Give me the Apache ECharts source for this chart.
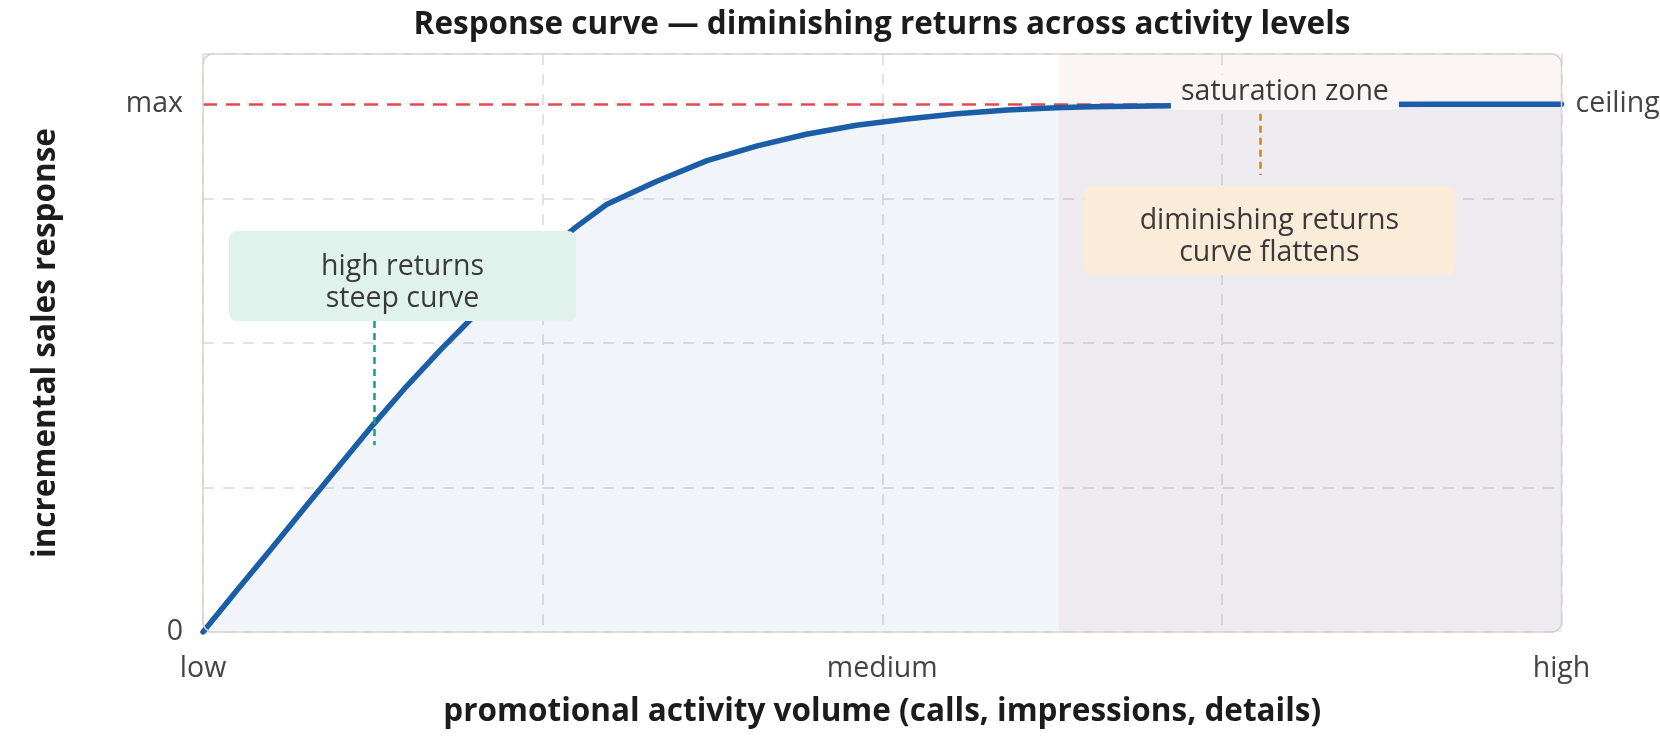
<!DOCTYPE html>
<html>
<head>
<meta charset="utf-8">
<script src="https://cdn.jsdelivr.net/npm/echarts@6/dist/echarts.min.js"></script>
<style>
  html, body { margin: 0; padding: 0; background: #ffffff; }
  #chart { width: 1660px; height: 742px; }
</style>
</head>
<body>
<div id="chart"></div>
<script>
// ---- data ----
const activity = [0, 0.25, 0.5, 0.75, 1.0, 1.25, 1.5, 1.75, 2.0, 2.25, 2.5, 2.75, 2.97, 3.34, 3.71, 4.08, 4.44, 4.81, 5.18, 5.55, 5.92, 6.28, 6.53, 7.13, 8.0, 9.0, 10];
const response = [0, 0.079, 0.157, 0.236, 0.314, 0.392, 0.466, 0.535, 0.600, 0.660, 0.716, 0.768, 0.810, 0.854, 0.893, 0.921, 0.943, 0.960, 0.972, 0.982, 0.989, 0.993, 0.995, 0.997, 0.999, 1.0, 1.0];
const xTickValues = [0, 5, 10];
const xTickLabels = ['low', 'medium', 'high'];
const yTickValues = [0, 1];
const yTickLabels = ['0', 'max'];
const ceilingValue = 1;
const saturationZone = [6.3, 10];
const highReturnsTop = [1.4685, 0.7595];
const highReturnsLeader = [[1.26, 0.589], [1.26, 0.354]];
const flattensTop = [7.85, 0.8447];
const flattensLeader = [[7.78, 0.982], [7.78, 0.866]];
const saturationLabelAt = [7.964, 1.0227];

const FONT = "'Open Sans', 'Noto Sans', sans-serif";
const G = { left: 203, top: 54, right: 98.5, bottom: 110 };
const W = 1660, H = 742;

const chart = echarts.init(document.getElementById('chart'), null, { renderer: 'canvas' });

const lookup = (vals, labels) => (v) => {
  for (let i = 0; i < vals.length; i++) if (Math.abs(vals[i] - v) < 1e-9) return labels[i];
  return '';
};

const option = {
  backgroundColor: '#ffffff',
  animation: false,
  title: {
    text: 'Response curve \u2014 diminishing returns across activity levels',
    left: 877,
    textAlign: 'center',
    top: 4,
    textStyle: { fontFamily: FONT, fontSize: 31.5, fontWeight: 'bold', color: '#1c1c1c' }
  },
  grid: { left: G.left, top: G.top, right: G.right, bottom: G.bottom, containLabel: false, outerBoundsMode: 'none' },
  xAxis: {
    type: 'value', min: 0, max: 10, interval: 2.5,
    axisLine: { show: false }, axisTick: { show: false },
    splitLine: { show: true, lineStyle: { color: '#d9d9d9', width: 1.5, type: [11, 9] } },
    axisLabel: {
      customValues: xTickValues, formatter: lookup(xTickValues, xTickLabels),
      fontFamily: FONT, fontSize: 28.5, color: '#444444', margin: 22
    },
    name: 'promotional activity volume (calls, impressions, details)',
    nameLocation: 'middle', nameGap: 64,
    nameTextStyle: { fontFamily: FONT, fontSize: 31.5, fontWeight: 'bold', color: '#1c1c1c' }
  },
  yAxis: {
    type: 'value', min: 0, max: 1.095, interval: 0.27375,
    axisLine: { show: false }, axisTick: { show: false },
    splitLine: { show: true, lineStyle: { color: '#d9d9d9', width: 1.5, type: [11, 9] } },
    axisLabel: {
      customValues: yTickValues, formatter: lookup(yTickValues, yTickLabels),
      fontFamily: FONT, fontSize: 28.5, color: '#444444', margin: 20
    },
    name: 'incremental sales response',
    nameLocation: 'middle', nameGap: 141,
    nameTextStyle: { fontFamily: FONT, fontSize: 31.5, fontWeight: 'bold', color: '#1c1c1c' }
  },
  graphic: [{
    type: 'rect', z: 100, silent: true,
    shape: { x: G.left, y: G.top, width: W - G.left - G.right, height: H - G.top - G.bottom, r: 10 },
    style: { fill: 'none', stroke: '#d6d3cd', lineWidth: 1.5 }
  }],
  series: [
    {
      name: 'response', type: 'line', z: 3,
      data: activity.map((x, i) => [x, response[i]]),
      symbol: 'none', showSymbol: false, smooth: false,
      lineStyle: { color: '#1b5da7', width: 5.5, cap: 'round', join: 'round' },
      areaStyle: { color: 'rgba(26,95,168,0.09)' },
      markArea: {
        silent: true, z: 1,
        itemStyle: { color: 'rgba(205,120,125,0.075)' },
        data: [[{ xAxis: saturationZone[0] }, { xAxis: saturationZone[1] }]]
      },
      markLine: {
        silent: true, z: 2, symbol: ['none', 'none'],
        lineStyle: { color: '#e5484d', width: 2.5, type: [14, 9] },
        label: {
          show: true, position: 'end', formatter: 'ceiling', distance: 14,
          fontFamily: FONT, fontSize: 28.5, color: '#444444'
        },
        data: [{ yAxis: ceilingValue }]
      }
    },
    {
      name: 'annotations', type: 'line', data: [], z: 5,
      markLine: {
        silent: true, z: 4, symbol: ['none', 'none'],
        label: { show: false },
        data: [
          [{ coord: highReturnsLeader[0], lineStyle: { color: '#1f9e74', width: 2.5, type: [7, 5] } }, { coord: highReturnsLeader[1] }],
          [{ coord: flattensLeader[0], lineStyle: { color: '#c8862d', width: 2.5, type: [7, 5] } }, { coord: flattensLeader[1] }]
        ]
      },
      markPoint: {
        silent: true, z: 6, symbol: 'rect', symbolSize: 0,
        data: [
          {
            coord: highReturnsTop,
            label: {
              show: true, position: 'inside', formatter: 'high returns\nsteep curve',
              fontFamily: FONT, fontSize: 28.5, color: '#3a3a3a', lineHeight: 32,
              backgroundColor: '#dff2eb', borderRadius: 8,
              width: 327, padding: [20, 10, 6, 10], align: 'center', verticalAlign: 'top'
            }
          },
          {
            coord: flattensTop,
            label: {
              show: true, position: 'inside', formatter: 'diminishing returns\ncurve flattens',
              fontFamily: FONT, fontSize: 28.5, color: '#3a3a3a', lineHeight: 32,
              backgroundColor: '#faecd9', borderRadius: 8,
              width: 352, padding: [19, 10, 6, 10], align: 'center', verticalAlign: 'top'
            }
          },
          {
            coord: saturationLabelAt,
            label: {
              show: true, position: 'inside', formatter: 'saturation zone',
              fontFamily: FONT, fontSize: 28.5, color: '#3a3a3a', lineHeight: 30,
              backgroundColor: '#fbf5f5', borderRadius: 0,
              width: 204, padding: [2, 12, 3, 12], align: 'center', verticalAlign: 'middle'
            }
          }
        ]
      }
    }
  ]
};

chart.setOption(option);
</script>
</body>
</html>
